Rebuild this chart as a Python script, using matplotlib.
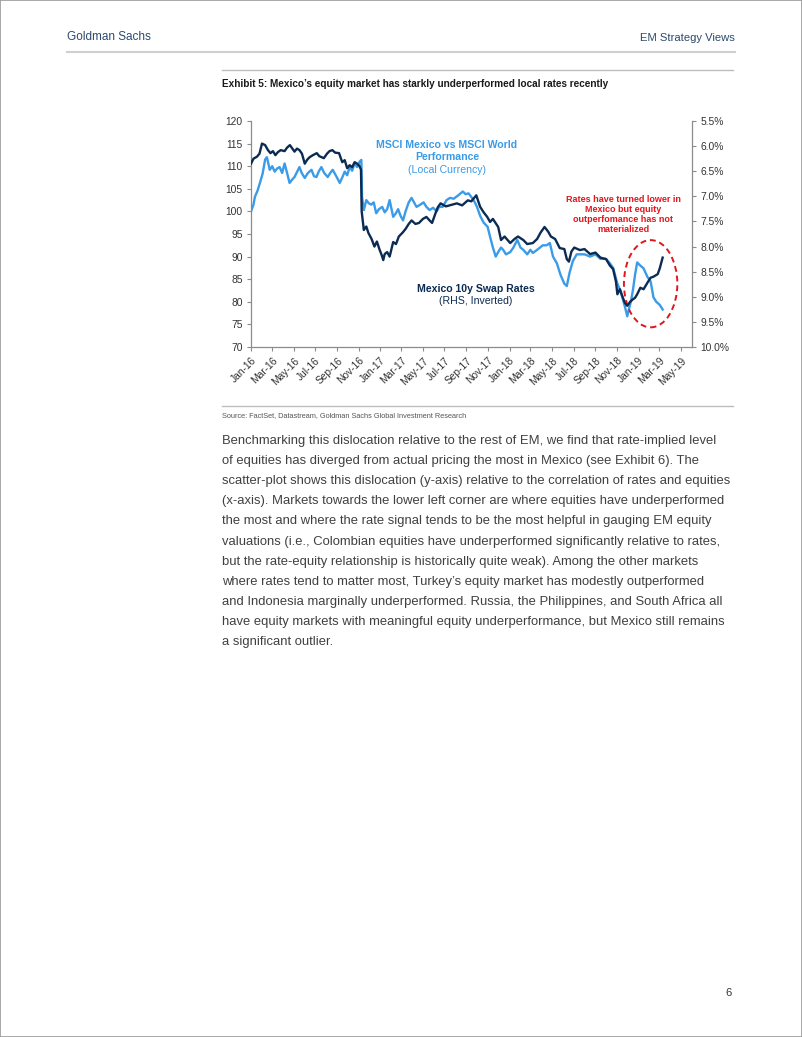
import matplotlib
matplotlib.use("Agg")
import matplotlib.pyplot as plt
import matplotlib.dates as mdates
from matplotlib.patches import Ellipse, Rectangle
from matplotlib.lines import Line2D
import numpy as np
import pandas as pd

# ---------------- data ----------------
msci_dates = ["2016-01-01","2016-01-08","2016-01-12","2016-01-20","2016-01-27","2016-02-03","2016-02-10","2016-02-15",
"2016-02-23","2016-03-01","2016-03-08","2016-03-15","2016-03-22","2016-03-29","2016-04-05","2016-04-12","2016-04-19",
"2016-04-26","2016-05-03","2016-05-10","2016-05-17","2016-05-24","2016-06-01","2016-06-10","2016-06-20","2016-06-27",
"2016-07-04","2016-07-11","2016-07-18","2016-07-26","2016-08-05","2016-08-12","2016-08-19","2016-08-29","2016-09-08",
"2016-09-15","2016-09-22","2016-09-29","2016-10-06","2016-10-13","2016-10-20","2016-10-27","2016-11-03","2016-11-08",
"2016-11-10","2016-11-15","2016-11-22","2016-11-29","2016-12-06","2016-12-13","2016-12-20","2016-12-28","2017-01-06",
"2017-01-13","2017-01-20","2017-01-27","2017-02-06","2017-02-13","2017-02-20","2017-02-27","2017-03-06","2017-03-13",
"2017-03-22","2017-03-30","2017-04-06","2017-04-13","2017-04-24","2017-05-03","2017-05-11","2017-05-20","2017-05-30",
"2017-06-09","2017-06-16","2017-06-26","2017-07-07","2017-07-17","2017-07-27","2017-08-08","2017-08-22","2017-08-30",
"2017-09-07","2017-09-15","2017-09-25","2017-10-01","2017-10-10","2017-10-20","2017-10-31","2017-11-07","2017-11-15",
"2017-11-23","2017-11-30","2017-12-08","2017-12-14","2017-12-22","2018-01-03","2018-01-12","2018-01-23","2018-02-01",
"2018-02-09","2018-02-20","2018-03-01","2018-03-08","2018-03-20","2018-04-05","2018-04-16","2018-04-25","2018-05-04",
"2018-05-15","2018-05-25","2018-06-05","2018-06-12","2018-06-20","2018-06-29","2018-07-10","2018-07-19","2018-08-01",
"2018-08-17","2018-09-01","2018-09-15","2018-10-01","2018-10-12","2018-10-21","2018-11-02","2018-11-10","2018-11-16",
"2018-11-23","2018-11-30","2018-12-05","2018-12-10","2018-12-16","2018-12-22","2018-12-28","2019-01-06","2019-01-15",
"2019-01-26","2019-02-04","2019-02-12","2019-02-20","2019-03-02","2019-03-10"]
msci_values = [100.0,101.5,103.2,104.7,106.5,108.4,111.5,112.0,
109.2,110.0,108.8,109.5,109.8,108.5,110.6,108.5,106.3,
107.0,107.6,108.7,109.8,108.4,107.4,108.5,109.2,107.8,
107.6,108.9,109.8,108.5,107.6,108.5,109.2,107.8,106.3,
107.5,108.8,108.0,109.8,109.0,110.6,109.8,111.0,111.4,
103.2,100.3,102.5,101.8,101.5,102.0,99.6,100.5,101.0,
99.8,100.5,102.5,98.8,99.5,100.5,99.0,98.0,100.0,
102.0,103.0,102.0,101.0,101.5,102.0,101.0,100.3,100.8,
100.0,101.0,101.0,102.5,103.0,102.8,103.5,104.4,103.8,
104.0,103.2,102.0,101.0,99.0,97.5,96.6,94.4,92.0,
90.0,91.0,92.0,91.5,90.5,91.0,92.0,93.7,92.0,
91.5,90.5,91.5,90.8,91.5,92.5,92.5,93.0,90.0,
88.5,86.0,84.0,83.5,86.5,89.0,90.5,90.5,90.5,
90.0,90.5,89.5,89.5,88.5,87.5,84.0,82.6,81.0,
79.0,76.8,78.5,80.0,82.6,86.0,88.7,88.0,87.4,
85.5,84.5,81.0,80.0,79.3,78.3]

swap_dates = ["2016-01-01","2016-01-08","2016-01-18","2016-01-25","2016-02-01","2016-02-10","2016-02-18","2016-02-25",
"2016-03-03","2016-03-10","2016-03-17","2016-03-25","2016-04-05","2016-04-12","2016-04-20","2016-04-27","2016-05-03",
"2016-05-10","2016-05-17","2016-05-24","2016-06-01","2016-06-08","2016-06-15","2016-06-24","2016-07-05","2016-07-12",
"2016-07-25","2016-08-03","2016-08-10","2016-08-18","2016-08-26","2016-09-06","2016-09-15","2016-09-22","2016-09-29",
"2016-10-06","2016-10-13","2016-10-20","2016-10-27","2016-11-03","2016-11-07","2016-11-09","2016-11-15","2016-11-22",
"2016-11-28","2016-12-07","2016-12-15","2016-12-22","2016-12-29","2017-01-05","2017-01-09","2017-01-13","2017-01-20",
"2017-01-27","2017-02-06","2017-02-14","2017-02-22","2017-03-05","2017-03-13","2017-03-22","2017-03-30","2017-04-10",
"2017-04-20","2017-05-01","2017-05-11","2017-05-20","2017-05-27","2017-06-05","2017-06-12","2017-06-20","2017-07-05",
"2017-07-20","2017-08-05","2017-08-20","2017-09-05","2017-09-15","2017-09-29","2017-10-10","2017-10-20","2017-10-30",
"2017-11-07","2017-11-15","2017-11-30","2017-12-08","2017-12-18","2018-01-03","2018-01-15","2018-01-25","2018-02-09",
"2018-02-20","2018-03-08","2018-03-20","2018-03-30","2018-04-10","2018-04-20","2018-04-28","2018-05-10","2018-05-23",
"2018-06-05","2018-06-12","2018-06-18","2018-06-25","2018-07-03","2018-07-19","2018-08-01","2018-08-17","2018-09-01",
"2018-09-15","2018-10-01","2018-10-12","2018-10-21","2018-10-29","2018-11-02","2018-11-09","2018-11-16","2018-11-23",
"2018-11-30","2018-12-08","2018-12-16","2018-12-22","2018-12-28","2019-01-06","2019-01-15","2019-01-26","2019-02-04",
"2019-02-12","2019-02-24","2019-03-02","2019-03-10"]
swap_values = [6.35,6.25,6.21,6.15,5.95,5.98,6.08,6.14,
6.10,6.18,6.12,6.08,6.10,6.03,5.98,6.05,6.11,
6.05,6.08,6.15,6.35,6.27,6.22,6.18,6.14,6.20,
6.24,6.15,6.10,6.08,6.13,6.14,6.32,6.28,6.44,
6.38,6.42,6.32,6.35,6.40,6.47,7.30,7.67,7.60,
7.73,7.85,8.00,7.90,8.05,8.18,8.27,8.15,8.11,
8.20,7.91,7.95,7.80,7.72,7.65,7.55,7.48,7.55,
7.53,7.45,7.41,7.48,7.53,7.35,7.22,7.14,7.20,
7.17,7.14,7.18,7.08,7.10,6.98,7.21,7.32,7.41,
7.51,7.45,7.61,7.87,7.80,7.93,7.85,7.80,7.87,
7.95,7.93,7.85,7.72,7.61,7.70,7.80,7.85,8.03,
8.05,8.25,8.30,8.10,8.02,8.07,8.05,8.15,8.12,
8.22,8.25,8.38,8.45,8.70,8.95,8.85,8.99,9.12,
9.18,9.10,9.05,9.02,8.95,8.82,8.85,8.72,8.62,
8.60,8.55,8.43,8.22]

left_ticks = [70, 75, 80, 85, 90, 95, 100, 105, 110, 115, 120]
right_ticks = [5.5, 6.0, 6.5, 7.0, 7.5, 8.0, 8.5, 9.0, 9.5, 10.0]

body_lines = [
    "Benchmarking this dislocation relative to the rest of EM, we find that rate-implied level",
    "of equities has diverged from actual pricing the most in Mexico (see Exhibit 6). The",
    "scatter-plot shows this dislocation (y-axis) relative to the correlation of rates and equities",
    "(x-axis). Markets towards the lower left corner are where equities have underperformed",
    "the most and where the rate signal tends to be the most helpful in gauging EM equity",
    "valuations (i.e., Colombian equities have underperformed significantly relative to rates,",
    "but the rate-equity relationship is historically quite weak). Among the other markets",
    "where rates tend to matter most, Turkey\u2019s equity market has modestly outperformed",
    "and Indonesia marginally underperformed. Russia, the Philippines, and South Africa all",
    "have equity markets with meaningful equity underperformance, but Mexico still remains",
    "a significant outlier.",
]

# ---------------- figure ----------------
W, H = 802, 1037
fig = plt.figure(figsize=(W / 100, H / 100), dpi=100)
fig.patch.set_facecolor("white")
renderer = fig.canvas.get_renderer()

def P(x, y):
    return (x / W, 1 - y / H)

def fit(t, target_px):
    w = t.get_window_extent(renderer).width
    t.set_fontsize(t.get_fontsize() * target_px / w)

NARROW = ["Liberation Sans Narrow", "Liberation Sans", "DejaVu Sans"]
ARIAL = ["Liberation Sans", "DejaVu Sans"]

LIGHT = "#3A9BE8"
NAVY = "#0C2B52"
RED = "#E3151C"
GRAYTXT = "#333333"

# page border
fig.add_artist(Rectangle((0, 0), 1, 1, transform=fig.transFigure, fill=False,
                         edgecolor="#9a9a9a", lw=1.2))

# header
t = fig.text(*P(67, 37), "Goldman Sachs", family=NARROW, fontsize=11, color="#2B4A70",
             va="center", ha="left")
fit(t, 83)
t = fig.text(*P(735, 38), "EM Strategy Views", family=NARROW, fontsize=9, color="#2B4A70",
             va="center", ha="right")
fit(t, 95)
fig.add_artist(Line2D([67 / W, 735 / W], [1 - 52 / H] * 2, transform=fig.transFigure,
                      color="#cfcfcf", lw=1.5))

# exhibit frame lines
fig.add_artist(Line2D([222 / W, 733 / W], [1 - 70 / H] * 2, transform=fig.transFigure,
                      color="#bdbdbd", lw=1.0))
fig.add_artist(Line2D([222 / W, 733 / W], [1 - 406 / H] * 2, transform=fig.transFigure,
                      color="#bdbdbd", lw=1.0))
t = fig.text(*P(222, 84), "Exhibit 5: Mexico\u2019s equity market has starkly underperformed local rates recently",
             family=NARROW, fontsize=9, fontweight="bold", color="#1a1a1a", va="center", ha="left")
fit(t, 388)

t = fig.text(*P(222, 416), "Source: FactSet, Datastream, Goldman Sachs Global Investment Research",
             family=NARROW, fontsize=6.5, color="#555555", va="center", ha="left")
fit(t, 245)

# body text
ref = fig.text(0, 0, body_lines[2], family=ARIAL, fontsize=10)
w = ref.get_window_extent(renderer).width
body_fs = 10 * 509 / w
ref.remove()
for i, line in enumerate(body_lines):
    fig.text(*P(222, 441 + i * 20.1), line, family=ARIAL, fontsize=body_fs,
             color="#404040", va="center", ha="left")

fig.text(*P(732, 993), "6", family=ARIAL, fontsize=8, color="#333333", va="center", ha="right")

# ---------------- chart ----------------
ax = fig.add_axes([251 / W, 1 - 347 / H, 441 / W, 226 / H])
ax2 = ax.twinx()

md = pd.to_datetime(msci_dates)
sd = pd.to_datetime(swap_dates)

ax.plot(md, msci_values, color=LIGHT, lw=1.7, solid_joinstyle="round", zorder=3)
ax2.plot(sd, swap_values, color=NAVY, lw=1.7, solid_joinstyle="round", zorder=3)

ax.set_ylim(70, 120)
ax.set_yticks(left_ticks)
ax.set_yticklabels([str(v) for v in left_ticks])
ax2.set_ylim(10.0, 5.5)
ax2.set_yticks(right_ticks)
ax2.set_yticklabels([f"{v:.1f}%" for v in right_ticks])

ax.set_xlim(pd.Timestamp("2016-01-01"), pd.Timestamp("2019-06-01"))
ax.xaxis.set_major_locator(mdates.MonthLocator(bymonth=[1, 3, 5, 7, 9, 11]))
ax.xaxis.set_major_formatter(mdates.DateFormatter("%b-%y"))

for a in (ax, ax2):
    a.set_facecolor("none")
    for s in a.spines.values():
        s.set_color("#8c8c8c")
        s.set_linewidth(0.9)
    a.spines["top"].set_visible(False)
    a.tick_params(colors="#8c8c8c", labelcolor=GRAYTXT, labelsize=7.4, length=3, width=0.8)
ax.spines["right"].set_visible(False)
ax2.spines["left"].set_visible(False)
ax2.spines["bottom"].set_visible(False)
for lab in ax.get_xticklabels():
    lab.set_rotation(45)
    lab.set_ha("right")
    lab.set_rotation_mode("anchor")
    lab.set_family(ARIAL)
for lab in ax.get_yticklabels() + ax2.get_yticklabels():
    lab.set_family(ARIAL)
ax.tick_params(axis="y", pad=3)
ax2.tick_params(axis="y", pad=3)
ax.tick_params(axis="x", pad=3)

# annotations
fig.text(*P(447, 145), "MSCI Mexico vs MSCI World", family=ARIAL, fontsize=7.6,
         fontweight="bold", color=LIGHT, ha="center", va="center")
fig.text(*P(447, 157.5), "Performance", family=ARIAL, fontsize=7.6,
         fontweight="bold", color=LIGHT, ha="center", va="center")
fig.text(*P(447, 170), "(Local Currency)", family=ARIAL, fontsize=7.6,
         color=LIGHT, ha="center", va="center")

fig.text(*P(476, 288.5), "Mexico 10y Swap Rates", family=ARIAL, fontsize=7.6,
         fontweight="bold", color=NAVY, ha="center", va="center")
fig.text(*P(476, 301.5), "(RHS, Inverted)", family=ARIAL, fontsize=7.6,
         color=NAVY, ha="center", va="center")

red_lines = ["Rates have turned lower in", "Mexico but equity", "outperfomance has not", "materialized"]
for i, l in enumerate(red_lines):
    fig.text(*P(623, 199.5 + i * 10), l, family=ARIAL, fontsize=6.5, fontweight="bold",
             color=RED, ha="center", va="center")

ell_center = mdates.date2num(pd.Timestamp("2019-02-04"))
ell_width = mdates.date2num(pd.Timestamp("2019-04-20")) - mdates.date2num(pd.Timestamp("2018-11-20"))
ell = Ellipse((ell_center, 84.0), width=ell_width, height=19.3, fill=False,
              edgecolor=RED, lw=1.4, ls=(0, (3, 2)), zorder=5)
ax.add_patch(ell)

fig.savefig("out.png", dpi=100)
